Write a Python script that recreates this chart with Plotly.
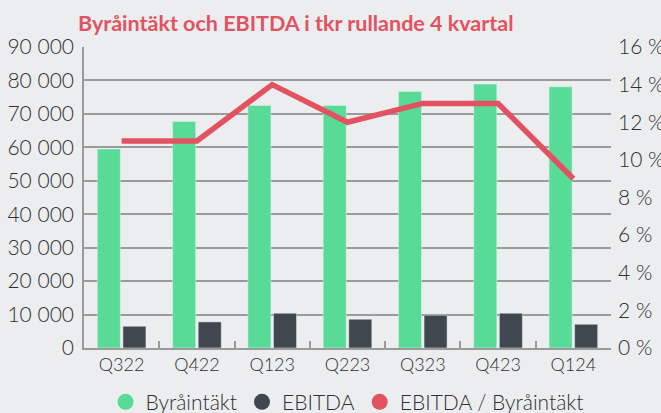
import plotly.graph_objects as go

quarters = ["Q322", "Q422", "Q123", "Q223", "Q323", "Q423", "Q124"]
byraintakt = [59500, 67700, 72500, 72500, 76700, 78900, 78100]
ebitda = [6500, 7800, 10400, 8600, 9800, 10400, 7100]
marginal = [0.11, 0.11, 0.14, 0.12, 0.13, 0.13, 0.09]

left_ticks = [0, 10000, 20000, 30000, 40000, 50000, 60000, 70000, 80000, 90000]
left_text = ["0", "10 000", "20 000", "30 000", "40 000", "50 000", "60 000", "70 000", "80 000", "90 000"]
right_ticks = [0, 0.02, 0.04, 0.06, 0.08, 0.10, 0.12, 0.14, 0.16]
right_text = ["0 %", "2 %", "4 %", "6 %", "8 %", "10 %", "12 %", "14 %", "16 %"]

GREEN = "#57db97"
DARK = "#41474f"
RED = "#e35260"
BG = "#ecedef"
GRID = "#9a9a9a"
TXT = "#2f2f2f"
FONT = "Lato"

fig = go.Figure()
fig.add_trace(go.Bar(x=quarters, y=byraintakt, name="Byråintäkt", marker_color=GREEN, showlegend=False))
fig.add_trace(go.Bar(x=quarters, y=ebitda, name="EBITDA", marker_color=DARK, showlegend=False))
fig.add_trace(go.Scatter(x=quarters, y=marginal, name="EBITDA / Byråintäkt", mode="lines",
                         line=dict(color=RED, width=5.5), yaxis="y2", showlegend=False))

for name, col in [("Byråintäkt", GREEN), ("EBITDA", DARK), ("EBITDA / Byråintäkt", RED)]:
    fig.add_trace(go.Scatter(x=[None], y=[None], mode="markers", name=name,
                             marker=dict(symbol="circle", size=19, color=col)))

fig.update_layout(
    width=661, height=413,
    paper_bgcolor=BG, plot_bgcolor=BG,
    margin=dict(l=84, r=50, t=47, b=65, autoexpand=False),
    font=dict(family=FONT, color=TXT, weight=300),
    barmode="group", bargap=0.32, bargroupgap=0.1,
    title=dict(text="<b>Byråintäkt och EBITDA i tkr rullande 4 kvartal</b>",
               font=dict(family=FONT, size=21.5, color=RED),
               x=78 / 661, xanchor="left", y=1 - 23 / 413, yanchor="middle"),
    xaxis=dict(showline=True, linecolor=GRID, linewidth=1.5, ticks="inside", tickson="boundaries",
               ticklen=7, tickcolor=GRID, tickwidth=1.5,
               tickfont=dict(size=18, color=TXT, weight=300),
               showgrid=False, automargin=False),
    yaxis=dict(range=[0, 90000], tickvals=left_ticks, ticktext=left_text, showgrid=True,
               gridcolor=GRID, gridwidth=1.5, showline=True, linecolor=GRID, linewidth=1.5,
               tickfont=dict(size=21, color=TXT, weight=300), ticks="", zeroline=False,
               automargin=False, ticklabelstandoff=4),
    yaxis2=dict(range=[0, 0.16], tickvals=right_ticks, ticktext=right_text, overlaying="y",
                side="right", showgrid=False, zeroline=False, automargin=False,
                ticklabelstandoff=6,
                tickfont=dict(size=21, color=TXT, weight=300)),
    legend=dict(orientation="h", x=0.5, xanchor="center", y=-0.18, yanchor="middle",
                font=dict(size=21, color=TXT, weight=300), itemsizing="trace",
                bgcolor="rgba(0,0,0,0)", itemwidth=30),
)

fig.write_html("out.html")
